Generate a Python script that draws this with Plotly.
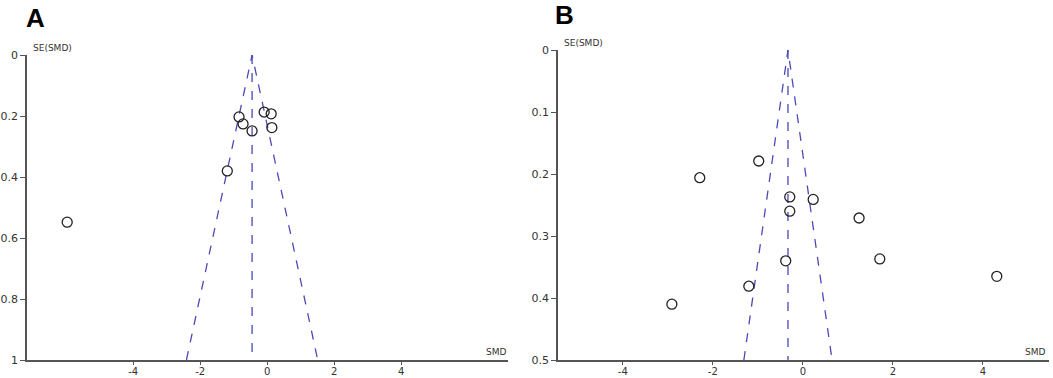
import plotly.graph_objects as go

# Panel A data
a_smd = [-0.84, -0.72, -0.45, -0.09, 0.12, 0.14, -1.19, -5.97]
a_se = [0.203, 0.226, 0.249, 0.187, 0.193, 0.238, 0.380, 0.548]
a_pooled = -0.45
a_se_max = 1.0

# Panel B data
b_smd = [-0.98, -2.29, -0.29, -0.29, -0.38, -1.20, -2.91, 0.23, 1.25, 1.71, 4.31]
b_se = [0.179, 0.206, 0.237, 0.260, 0.340, 0.381, 0.410, 0.241, 0.271, 0.337, 0.365]
b_pooled = -0.33
b_se_max = 0.5

x_ticks = [-4, -2, 0, 2, 4]
x_tick_text = ["-4", "-2", "0", "2", "4"]
a_y_ticks = [0, 0.2, 0.4, 0.6, 0.8, 1]
b_y_ticks = [0, 0.1, 0.2, 0.3, 0.4, 0.5]

W, H = 1053, 378
FUNNEL = "#4a4ab8"
AXC = "#555555"
FONT = "DejaVu Sans"

fig = go.Figure()

def add_panel(smd, se, pooled, se_max, xa, ya):
    fig.add_trace(go.Scatter(
        x=[pooled - 1.96 * se_max, pooled, pooled + 1.96 * se_max],
        y=[se_max, 0, se_max], mode="lines",
        line=dict(color=FUNNEL, width=1.3, dash="dash"),
        xaxis=xa, yaxis=ya, showlegend=False, hoverinfo="skip"))
    fig.add_trace(go.Scatter(
        x=[pooled, pooled], y=[0, se_max], mode="lines",
        line=dict(color=FUNNEL, width=1.3, dash="dash"),
        xaxis=xa, yaxis=ya, showlegend=False, hoverinfo="skip"))
    fig.add_trace(go.Scatter(
        x=smd, y=se, mode="markers",
        marker=dict(symbol="circle-open", size=10, color="#222222", line=dict(width=1.3)),
        xaxis=xa, yaxis=ya, showlegend=False))

add_panel(a_smd, a_se, a_pooled, a_se_max, "x", "y")
add_panel(b_smd, b_se, b_pooled, b_se_max, "x2", "y2")

common_x = dict(showline=True, linecolor=AXC, linewidth=1.5, ticks="outside", ticklen=3,
                tickcolor=AXC, tickwidth=1.2, tickvals=x_ticks, ticktext=x_tick_text,
                showgrid=False, zeroline=False, automargin=False, ticklabelstandoff=-2,
                tickfont=dict(family=FONT, size=10, color="#333333"))
common_y = dict(showline=True, linecolor=AXC, linewidth=1.5, ticks="outside", ticklen=5,
                tickcolor=AXC, tickwidth=1.2, showgrid=False, zeroline=False, automargin=False,
                tickfont=dict(family=FONT, size=11, color="#333333"))

fig.update_layout(
    template="none",
    width=W, height=H, margin=dict(l=0, r=0, t=0, b=0, pad=0),
    plot_bgcolor="white", paper_bgcolor="white",
    xaxis=dict(domain=[27 / W, 508 / W], range=[-7.17, 7.19], anchor="y", **common_x),
    yaxis=dict(domain=[1 - 360 / H, 1 - 55 / H], range=[1, 0], tickvals=a_y_ticks,
               anchor="x", **common_y),
    xaxis2=dict(domain=[558 / W, 1049 / W], range=[-5.44, 5.47], anchor="y2", **common_x),
    yaxis2=dict(domain=[1 - 360 / H, 1 - 50 / H], range=[0.5, 0], tickvals=b_y_ticks,
                anchor="x2", **common_y),
)

ann = [
    dict(text="<b>A</b>", x=24 / W, y=1 - 18 / H, xref="paper", yref="paper",
         xanchor="left", yanchor="middle", showarrow=False,
         font=dict(family="Liberation Sans", size=26, color="black")),
    dict(text="<b>B</b>", x=553 / W, y=1 - 15 / H, xref="paper", yref="paper",
         xanchor="left", yanchor="middle", showarrow=False,
         font=dict(family="Liberation Sans", size=26, color="black")),
    dict(text="SE(SMD)", x=31 / W, y=1 - 48 / H, xref="paper", yref="paper",
         xanchor="left", yanchor="middle", showarrow=False,
         font=dict(family=FONT, size=9, color="#333333")),
    dict(text="SE(SMD)", x=562 / W, y=1 - 43 / H, xref="paper", yref="paper",
         xanchor="left", yanchor="middle", showarrow=False,
         font=dict(family=FONT, size=9, color="#333333")),
    dict(text="SMD", x=508 / W, y=1 - 352 / H, xref="paper", yref="paper",
         xanchor="right", yanchor="middle", showarrow=False,
         font=dict(family=FONT, size=9, color="#333333")),
    dict(text="SMD", x=1047 / W, y=1 - 352 / H, xref="paper", yref="paper",
         xanchor="right", yanchor="middle", showarrow=False,
         font=dict(family=FONT, size=9, color="#333333")),
]
fig.update_layout(annotations=ann)

fig.write_html(
    "out.html",
    config={"displayModeBar": False},
    post_script="document.body.style.margin='0';document.body.style.padding='0';"
                "document.body.style.overflow='hidden';",
)
